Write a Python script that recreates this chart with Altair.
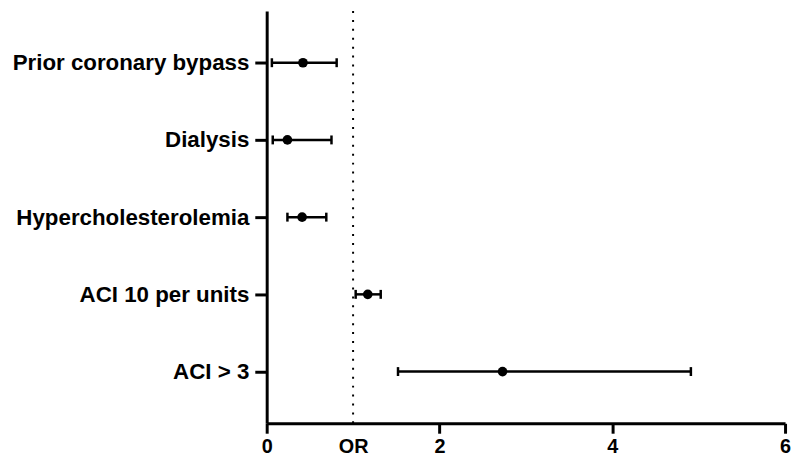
import altair as alt
import pandas as pd

labels = ["Prior coronary bypass", "Dialysis", "Hypercholesterolemia", "ACI 10 per units", "ACI > 3"]
or_vals = [0.42, 0.24, 0.41, 1.17, 2.73]
low_vals = [0.06, 0.07, 0.24, 1.03, 1.52]
high_vals = [0.81, 0.75, 0.69, 1.32, 4.91]
x_ticks = [0, 1, 2, 4, 6]
ref_line = [1]

df = pd.DataFrame({"label": labels, "or": or_vals, "low": low_vals, "high": high_vals})
FONT = "Liberation Sans"

xscale = alt.Scale(domain=[0, 6], nice=False, zero=False)
yscale = alt.Scale(type="point", domain=labels, padding=0.67)

xaxis = alt.Axis(
    values=x_ticks, format="d",
    labelExpr="datum.value == 1 ? 'OR' : datum.label",
    tickOpacity={"condition": {"test": "datum.value == 1", "value": 0}, "value": 1},
    title=None, grid=False, domainColor="black", domainWidth=3, tickColor="black",
    tickWidth=3, tickSize=10, labelFont=FONT, labelFontSize=20, labelFontWeight="bold",
    labelColor="black", labelPadding=3, labelFlush=False,
)
yaxis = alt.Axis(
    title=None, grid=False, domainColor="black", domainWidth=3, tickColor="black",
    tickWidth=3, tickSize=12, labelFont=FONT, labelFontSize=22.5, labelFontWeight="bold",
    labelColor="black", labelPadding=6, labelLimit=500,
)

base = alt.Chart(df)

rule = base.mark_rule(color="black", strokeWidth=2.5).encode(
    x=alt.X("low:Q", scale=xscale, axis=xaxis),
    x2="high:Q",
    y=alt.Y("label:N", scale=yscale, axis=yaxis, sort=labels),
)
cap_lo = base.mark_tick(color="black", thickness=2.5, size=9, opacity=1).encode(
    x=alt.X("low:Q", scale=xscale),
    y=alt.Y("label:N", scale=yscale, sort=labels),
)
cap_hi = base.mark_tick(color="black", thickness=2.5, size=9, opacity=1).encode(
    x=alt.X("high:Q", scale=xscale),
    y=alt.Y("label:N", scale=yscale, sort=labels),
)
pts = base.mark_circle(color="black", size=95, opacity=1).encode(
    x=alt.X("or:Q", scale=xscale),
    y=alt.Y("label:N", scale=yscale, sort=labels),
)
ref = alt.Chart(pd.DataFrame({"v": ref_line})).mark_rule(
    color="black", strokeWidth=2, strokeDash=[2, 7]
).encode(x=alt.X("v:Q", scale=xscale))

chart = alt.layer(ref, rule, cap_lo, cap_hi, pts).properties(
    width=523, height=416,
    padding={"left": 4, "top": 0, "right": 0, "bottom": 0},
).configure_view(stroke=None)

chart.save("out.html", embed_options={"renderer": "svg", "actions": False})
